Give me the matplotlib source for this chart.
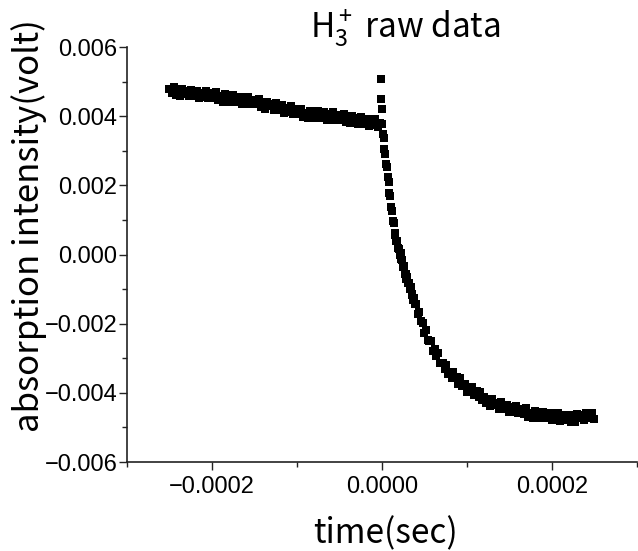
import numpy as np
import matplotlib.pyplot as plt
from matplotlib.ticker import MultipleLocator

# time in microseconds, signal in millivolts
t_before = [-250, -247.5, -245, -242.5, -240, -237.5, -235, -232.5, -230, -227.5,
            -225, -222.5, -220, -217.5, -215, -212.5, -210, -207.5, -205, -202.5,
            -200, -197.5, -195, -192.5, -190, -187.5, -185, -182.5, -180, -177.5,
            -175, -172.5, -170, -167.5, -165, -162.5, -160, -157.5, -155, -152.5,
            -150, -147.5, -145, -142.5, -140, -137.5, -135, -132.5, -130, -127.5,
            -125, -122.5, -120, -117.5, -115, -112.5, -110, -107.5, -105, -102.5,
            -100, -97.5, -95, -92.5, -90, -87.5, -85, -82.5, -80, -77.5,
            -75, -72.5, -70, -67.5, -65, -62.5, -60, -57.5, -55, -52.5,
            -50, -47.5, -45, -42.5, -40, -37.5, -35, -32.5, -30, -27.5,
            -25, -22.5, -20, -17.5, -15, -12.5, -10, -7.5, -5, -2.5]
v_before = [4.80, 4.66, 4.83, 4.60, 4.72, 4.57, 4.79, 4.65, 4.73, 4.58,
            4.77, 4.59, 4.65, 4.74, 4.53, 4.67, 4.56, 4.73, 4.53, 4.63,
            4.67, 4.53, 4.69, 4.46, 4.57, 4.42, 4.64, 4.50, 4.58, 4.42,
            4.61, 4.42, 4.48, 4.56, 4.35, 4.49, 4.38, 4.55, 4.34, 4.44,
            4.48, 4.34, 4.50, 4.27, 4.37, 4.22, 4.42, 4.28, 4.35, 4.19,
            4.37, 4.18, 4.23, 4.31, 4.09, 4.23, 4.11, 4.28, 4.07, 4.16,
            4.20, 4.05, 4.21, 3.98, 4.10, 3.95, 4.16, 4.03, 4.11, 3.95,
            4.15, 3.96, 4.03, 4.11, 3.90, 4.05, 3.94, 4.11, 3.90, 4.00,
            4.04, 3.90, 4.06, 3.83, 3.94, 3.79, 4.00, 3.86, 3.94, 3.78,
            3.97, 3.78, 3.84, 3.92, 3.71, 3.85, 3.74, 3.91, 3.70, 3.80]

# spike right at the trigger
t_spike = [-1.0, -0.6, -0.3]
v_spike = [5.07, 4.50, 4.22]

t_after = [0, 1, 2, 3, 4, 5, 6, 7, 8, 9,
           10, 11, 12, 13, 14, 15, 16, 17, 18, 19,
           20, 21, 22, 23, 24, 25, 26, 27, 28, 29,
           30, 31, 32, 33, 34, 35, 36, 37, 38, 39, 40,
           42, 44, 46, 48, 50, 52, 54, 56, 58, 60,
           62, 64, 66, 68, 70, 72, 74, 76, 78, 80,
           82, 84, 86, 88, 90, 92, 94, 96, 98, 100,
           102, 104, 106, 108, 110, 112, 114, 116, 118, 120,
           122.5, 125, 127.5, 130, 132.5, 135, 137.5, 140, 142.5, 145,
           147.5, 150, 152.5, 155, 157.5, 160, 162.5, 165, 167.5, 170,
           172.5, 175, 177.5, 180, 182.5, 185, 187.5, 190, 192.5, 195,
           197.5, 200, 202.5, 205, 207.5, 210, 212.5, 215, 217.5, 220,
           222.5, 225, 227.5, 230, 232.5, 235, 237.5, 240, 242.5, 245,
           247.5, 250]
v_after = [3.77, 3.47, 3.38, 3.04, 2.91, 2.61, 2.53, 2.24, 2.09, 1.79,
           1.69, 1.37, 1.25, 0.96, 0.90, 0.62, 0.55, 0.38, 0.40, 0.18,
           0.17, -0.01, 0.03, -0.14, -0.17, -0.35, -0.33, -0.55, -0.55, -0.71,
           -0.66, -0.81, -0.82, -0.99, -0.95, -1.16, -1.15, -1.32, -1.26, -1.42, -1.42,
           -1.73, -1.66, -1.93, -1.98, -2.28, -2.19, -2.46, -2.49, -2.49, -2.79,
           -2.74, -2.93, -2.85, -3.14, -3.13, -3.14, -3.32, -3.20, -3.46, -3.39,
           -3.58, -3.40, -3.58, -3.54, -3.73, -3.58, -3.81, -3.79, -3.74, -3.99,
           -3.87, -3.99, -3.84, -4.07, -3.98, -3.96, -4.12, -3.97, -4.22, -4.13,
           -4.28, -4.20, -4.37, -4.18, -4.35, -4.29, -4.46, -4.27, -4.47, -4.41,
           -4.34, -4.56, -4.42, -4.54, -4.37, -4.59, -4.50, -4.46, -4.61, -4.45,
           -4.69, -4.58, -4.73, -4.52, -4.66, -4.58, -4.73, -4.54, -4.73, -4.67,
           -4.59, -4.79, -4.65, -4.76, -4.59, -4.80, -4.69, -4.65, -4.79, -4.63,
           -4.84, -4.71, -4.84, -4.61, -4.74, -4.64, -4.78, -4.57, -4.74, -4.67,
           -4.57, -4.76]

t_all = np.array(t_before + t_spike + t_after) * 1e-6
v_all = np.array(v_before + v_spike + v_after) * 1e-3

plt.rcParams['font.family'] = ['Liberation Sans', 'DejaVu Sans']
plt.rcParams['mathtext.fontset'] = 'custom'
plt.rcParams['mathtext.rm'] = 'Noto Sans CJK JP'
plt.rcParams['mathtext.it'] = 'Noto Sans CJK JP'

fig = plt.figure(figsize=(6.38, 5.51), dpi=100)
ax = fig.add_axes([0.199, 0.1615, 0.799, 0.7532])

ax.plot(t_all, v_all, 's', color='black', ms=6.2, mew=0)

ax.set_xlim(-0.0003, 0.0003)
ax.set_ylim(-0.006, 0.006)
ax.xaxis.set_major_locator(MultipleLocator(0.0002))
ax.xaxis.set_minor_locator(MultipleLocator(0.0001))
ax.yaxis.set_major_locator(MultipleLocator(0.002))
ax.yaxis.set_minor_locator(MultipleLocator(0.001))
ax.xaxis.set_major_formatter(lambda v, p: f"{v:.4f}".replace('-', '\u2212'))
ax.yaxis.set_major_formatter(lambda v, p: f"{v:.3f}".replace('-', '\u2212'))

for s in ['top', 'right']:
    ax.spines[s].set_visible(False)
for s in ['left', 'bottom']:
    ax.spines[s].set_linewidth(1.2)
    ax.spines[s].set_color('#222222')

ax.tick_params(which='major', length=6, width=1, labelsize=17, color='#222222')
ax.tick_params(which='minor', length=3.6, width=1, color='#222222')
ax.tick_params(axis='y', which='major', pad=1)
ax.tick_params(axis='x', which='major', pad=4)

jp = ['Noto Sans CJK JP', 'DejaVu Sans']
fig.text(0.635, 0.931, r'H$_3^+$ raw data', family=jp, fontsize=24,
         ha='center', va='baseline')
fig.text(0.605, 0.031, 'time(sec)', family=jp, fontsize=24,
         ha='center', va='center')
fig.text(0.045, 0.59, 'absorption intensity(volt)', family=jp, fontsize=25,
         ha='center', va='center', rotation=90)

fig.savefig('out.png', dpi=100)
